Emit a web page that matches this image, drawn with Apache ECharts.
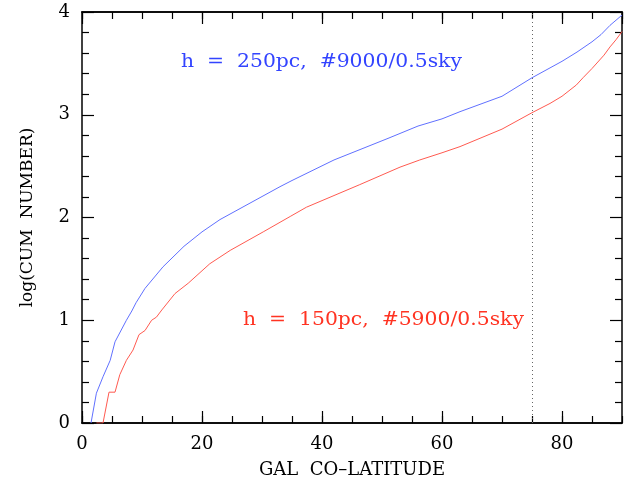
<!DOCTYPE html>
<html>
<head>
<meta charset="utf-8">
<script src="https://cdn.jsdelivr.net/npm/echarts@6/dist/echarts.min.js"></script>
<style>
  html, body { margin: 0; padding: 0; background: #fff; }
  #chart { width: 624px; height: 484px; }
</style>
</head>
<body>
<div id="chart"></div>
<script>
// 曲线数据
const blueX = [1.5, 2.4, 3.5, 4.7, 5.5, 7.4, 8.3, 9, 10.5, 13.5, 17, 20, 23, 28, 33, 35, 42, 51, 56, 60, 63, 70, 75, 80, 82.5, 85, 86.5, 88, 90]
const blueY = [0, 0.29, 0.45, 0.61, 0.79, 1.0, 1.09, 1.17, 1.31, 1.52, 1.72, 1.86, 1.98, 2.14, 2.30, 2.36, 2.56, 2.77, 2.89, 2.96, 3.03, 3.18, 3.36, 3.52, 3.61, 3.71, 3.78, 3.87, 3.97]
const redX = [2.4, 3.5, 4.5, 5.5, 6.3, 7.4, 8.5, 9.5, 10.5, 11.6, 12.4, 13.3, 15.5, 17.7, 21.3, 24.7, 30.2, 34.7, 37.4, 46.3, 53, 56.3, 60, 63, 70, 75, 78, 80, 82.4, 83.5, 85, 87, 88, 89, 90]
const redY = [0, 0, 0.30, 0.30, 0.47, 0.61, 0.71, 0.86, 0.90, 1.0, 1.03, 1.10, 1.26, 1.36, 1.55, 1.68, 1.86, 2.01, 2.10, 2.32, 2.49, 2.56, 2.63, 2.69, 2.86, 3.02, 3.11, 3.18, 3.29, 3.36, 3.45, 3.58, 3.66, 3.73, 3.81]
const cutX = 75

const blueLabel = 'h  =  250pc,  #9000/0.5sky'
const redLabel = 'h  =  150pc,  #5900/0.5sky'

const font = 'DejaVu Serif'

const chart = echarts.init(document.getElementById('chart'))

function frameAxis(pos, interval, tickLen) {
  return {
    type: 'value',
    position: pos,
    min: 0,
    max: pos === 'left' || pos === 'right' ? 4 : 90,
    interval: interval,
    axisLine: { show: true, onZero: false, lineStyle: { color: '#000', width: 1.5 } },
    axisTick: { show: true, inside: true, length: tickLen, lineStyle: { color: '#000', width: 1.2 } },
    axisLabel: { show: false },
    splitLine: { show: false }
  }
}

const xMain = Object.assign(frameAxis('bottom', 20, 12), {
  name: 'GAL  CO\u2013LATITUDE',
  nameLocation: 'middle',
  nameGap: 38,
  nameTextStyle: { fontFamily: font, fontSize: 18, color: '#000' },
  axisLabel: { show: true, showMaxLabel: false, margin: 12, fontFamily: font, fontSize: 18, color: '#000' }
})

const yMain = Object.assign(frameAxis('left', 1, 12), {
  name: 'log(CUM  NUMBER)',
  nameLocation: 'middle',
  nameGap: 46,
  nameTextStyle: { fontFamily: font, fontSize: 17, color: '#000' },
  minorTick: { show: true, splitNumber: 5, length: 7, lineStyle: { color: '#000', width: 1.2 } },
  axisLabel: { show: true, margin: 12, fontFamily: font, fontSize: 18, color: '#000' }
})

const yRight = Object.assign(frameAxis('right', 1, 12), {
  minorTick: { show: true, splitNumber: 5, length: 7, lineStyle: { color: '#000', width: 1.2 } }
})

chart.setOption({
  animation: false,
  grid: { left: 82, top: 12, width: 540, height: 411 },
  xAxis: [
    xMain,
    frameAxis('top', 20, 12),
    frameAxis('bottom', 5, 7),
    frameAxis('top', 5, 7)
  ],
  yAxis: [yMain, yRight],
  graphic: [
    {
      type: 'text', left: 181, top: 53, scaleX: 1.13,
      style: { text: blueLabel, fontFamily: font, fontSize: 18, fill: '#3344ff' }
    },
    {
      type: 'text', left: 243, top: 311, scaleX: 1.13,
      style: { text: redLabel, fontFamily: font, fontSize: 18, fill: '#ff3322' }
    }
  ],
  series: [
    {
      name: 'h=250pc',
      type: 'line',
      data: blueX.map((x, i) => [x, blueY[i]]),
      showSymbol: false,
      lineStyle: { color: '#6070ff', width: 1 },
      markLine: {
        silent: true,
        symbol: 'none',
        label: { show: false },
        lineStyle: { color: '#666', type: [1, 3], width: 1 },
        data: [{ xAxis: cutX }]
      }
    },
    {
      name: 'h=150pc',
      type: 'line',
      data: redX.map((x, i) => [x, redY[i]]),
      showSymbol: false,
      lineStyle: { color: '#ff5a50', width: 1 }
    }
  ]
})
</script>
</body>
</html>
